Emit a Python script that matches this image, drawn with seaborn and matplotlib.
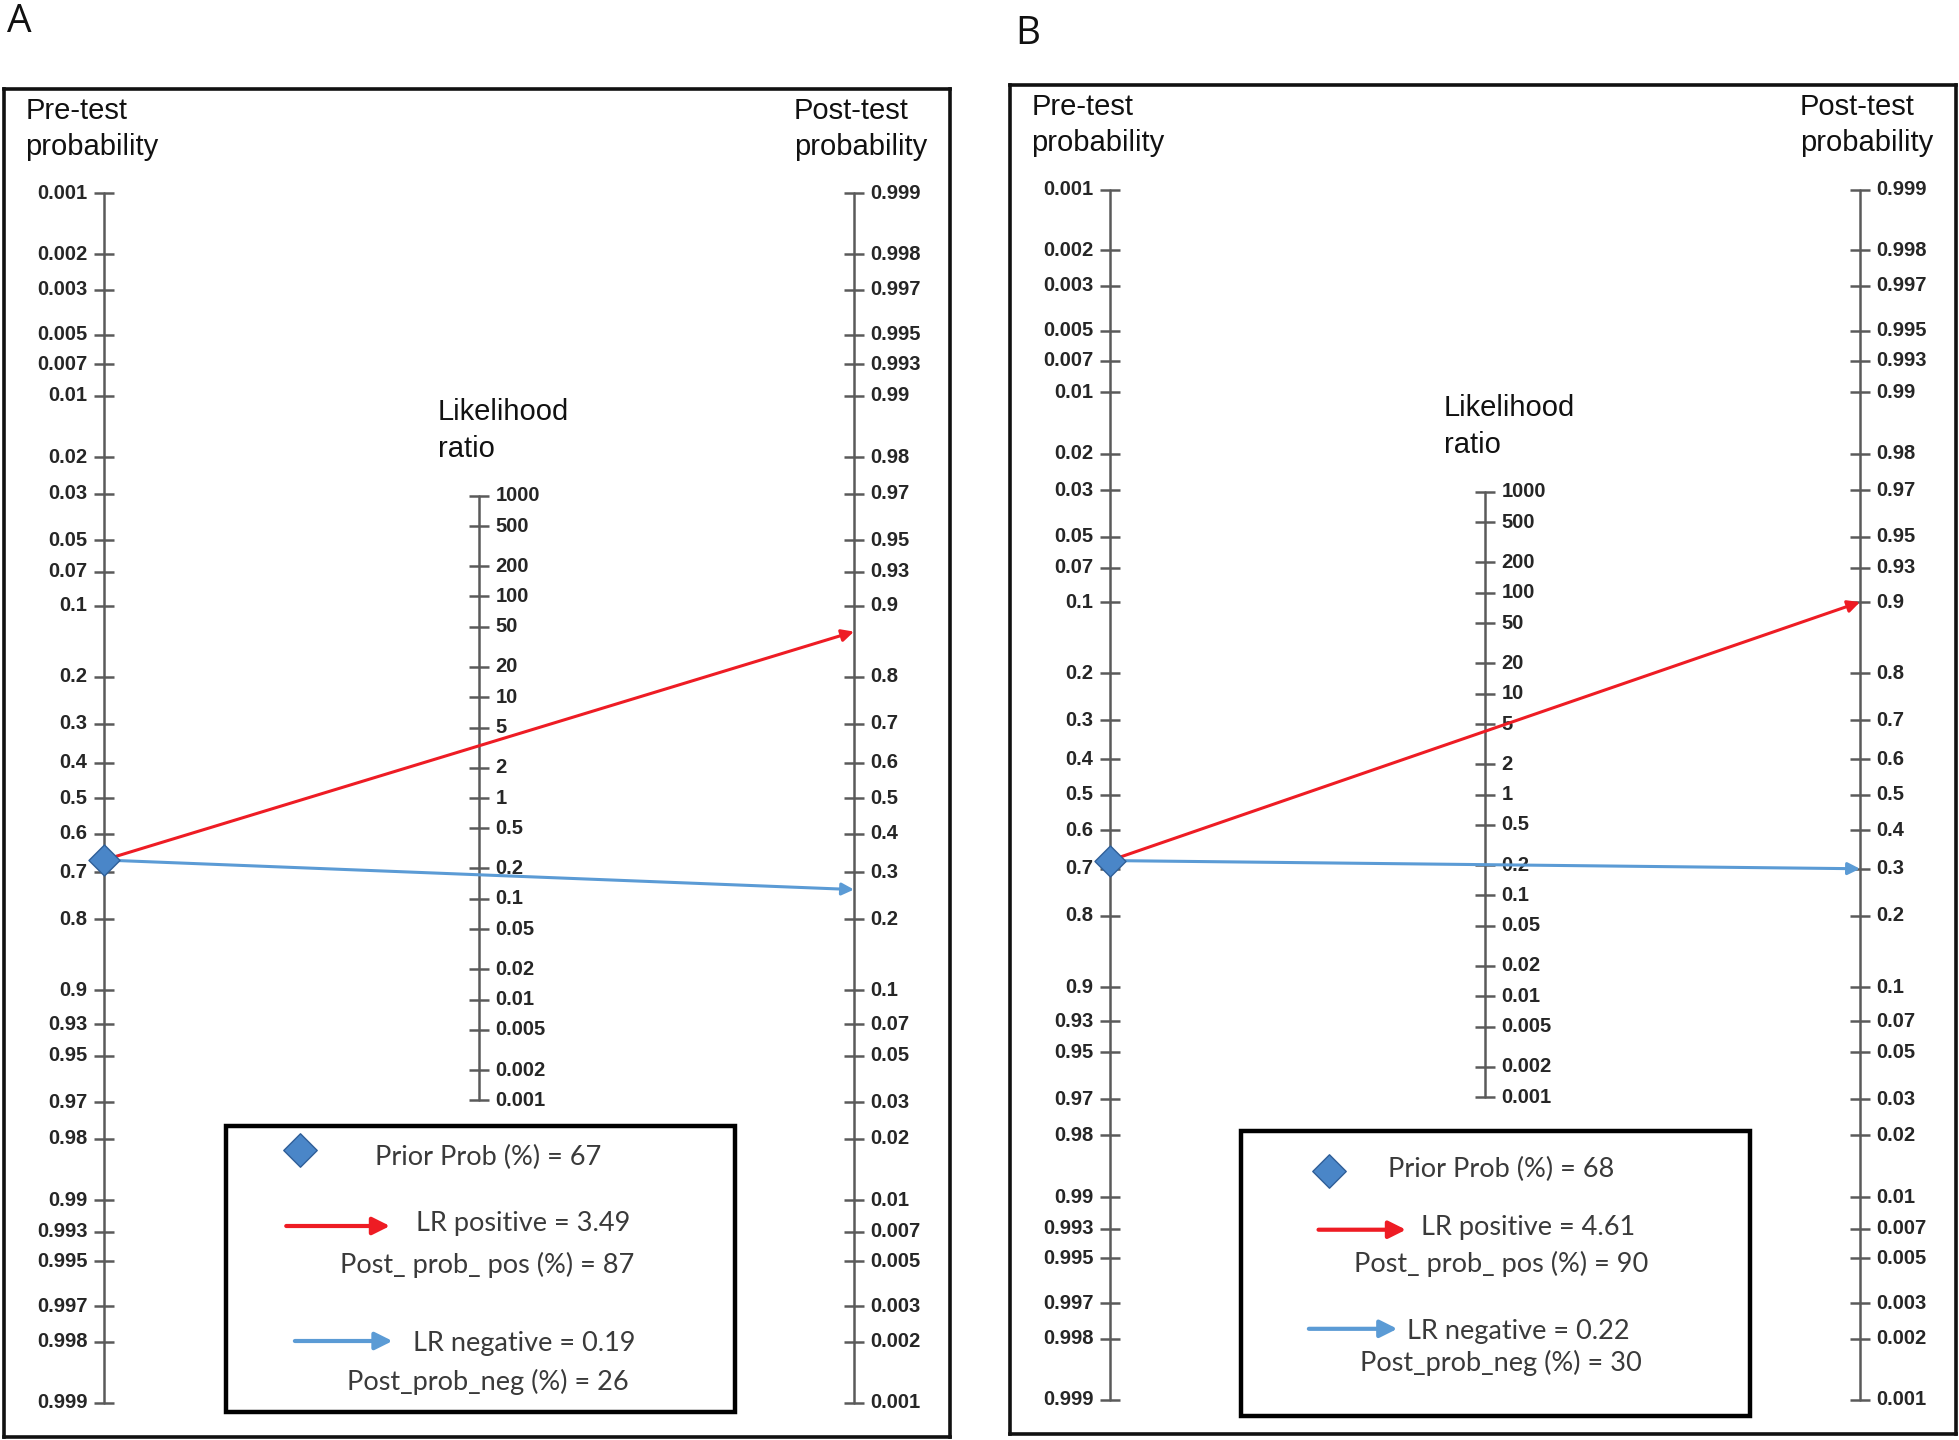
import numpy as np
import matplotlib
matplotlib.use('Agg')
import matplotlib.pyplot as plt
import seaborn as sns
import pandas as pd
from matplotlib.patches import Rectangle

# data
panels = ['A', 'B']
prior_prob = [0.67, 0.68]
lr_pos = [3.49, 4.61]
lr_neg = [0.19, 0.22]
post_pos = [0.87, 0.90]
post_neg = [0.26, 0.30]

pre_ticks = [0.001, 0.002, 0.003, 0.005, 0.007, 0.01, 0.02, 0.03, 0.05, 0.07, 0.1,
             0.2, 0.3, 0.4, 0.5, 0.6, 0.7, 0.8, 0.9, 0.93, 0.95, 0.97, 0.98, 0.99,
             0.993, 0.995, 0.997, 0.998, 0.999]
post_ticks = pre_ticks[::-1]
lr_ticks = [1000, 500, 200, 100, 50, 20, 10, 5, 2, 1, 0.5, 0.2, 0.1, 0.05, 0.02,
            0.01, 0.005, 0.002, 0.001]

RED = '#ee1c24'
BLUE = '#5b9bd5'
DIAMOND = '#4a86c8'
AXCOL = '#5a5a5a'

sns.set_style('white')
plt.rcParams['font.family'] = ['Liberation Sans', 'DejaVu Sans']

W, H = 1959, 1440
fig = plt.figure(figsize=(W / 100, H / 100), dpi=100)

# panel boxes in pixels (left, top, right, bottom)
boxes = [(4, 89, 950, 1437), (1010, 85, 1956, 1434)]
label_pos = [(19, 22), (1028, 34)]
XLIM = (-0.1333, 1.128)
YLIM = (-7.30, 8.10)
TICK = 0.0133

# legend layout: box in data coords and item positions as box fractions
leg_boxes = [(0.163, -3.749, 0.841, -7.017), (0.175, -3.84, 0.853, -7.10)]
leg_items = [
    dict(dia=(0.145, 0.083), prior=(0.516, 0.109), rarr=(0.118, 0.322, 0.349),
         lrp=(0.584, 0.341), pp=(0.514, 0.485), barr=(0.135, 0.327, 0.751),
         lrn=(0.587, 0.760), pn=(0.514, 0.895)),
    dict(dia=(0.172, 0.140), prior=(0.511, 0.136), rarr=(0.152, 0.324, 0.346),
         lrp=(0.565, 0.338), pp=(0.511, 0.465), barr=(0.133, 0.307, 0.693),
         lrn=(0.545, 0.702), pn=(0.511, 0.811)),
]
clip_lr_bottom = [True, False]


def logit(p):
    p = np.asarray(p, dtype=float)
    return np.log(p / (1 - p))


def fmt(v):
    return ('%g' % v)


tfont = dict(fontsize=14.5, color='#262626', fontweight='bold', va='center')

for i, name in enumerate(panels):
    x0, y0, x1, y1 = boxes[i]
    ax = fig.add_axes([x0 / W, 1 - y1 / H, (x1 - x0) / W, (y1 - y0) / H])
    ax.set_xlim(XLIM)
    ax.set_ylim(YLIM)
    ax.set_xticks([])
    ax.set_yticks([])
    for s in ax.spines.values():
        s.set_visible(True)
        s.set_linewidth(2.6)
        s.set_color('#111111')

    # three scales
    y_pre = -logit(pre_ticks)
    y_post = logit(post_ticks)
    y_lr = np.log(lr_ticks) / 2
    ax.plot([0, 0], [y_pre.min(), y_pre.max()], color=AXCOL, lw=1.8)
    ax.plot([1, 1], [y_post.min(), y_post.max()], color=AXCOL, lw=1.8)
    ax.plot([0.5, 0.5], [y_lr.min(), y_lr.max()], color=AXCOL, lw=1.8)
    ax.hlines(y_pre, -TICK, TICK, color=AXCOL, lw=1.8)
    ax.hlines(y_post, 1 - TICK, 1 + TICK, color=AXCOL, lw=1.8)
    ax.hlines(y_lr, 0.5 - TICK, 0.5 + TICK, color=AXCOL, lw=1.8)

    for v, y in zip(pre_ticks, y_pre):
        ax.text(-0.022, y, fmt(v), ha='right', **tfont)
    for v, y in zip(post_ticks, y_post):
        ax.text(1.022, y, fmt(v), ha='left', **tfont)
    for v, y in zip(lr_ticks, y_lr):
        t = ax.text(0.522, y, fmt(v), ha='left', **tfont)
        if clip_lr_bottom[i] and v == lr_ticks[-1]:
            clip = Rectangle((0.4, -3.42), 0.4, 10, transform=ax.transData)
            t.set_clip_path(clip)

    ax.text(-0.105, 7.64, 'Pre-test\nprobability', ha='left', va='center',
            fontsize=21, linespacing=1.38, color='#111111')
    ax.text(0.92, 7.64, 'Post-test\nprobability', ha='left', va='center',
            fontsize=21, linespacing=1.38, color='#111111')
    ax.text(0.445, 4.2, 'Likelihood\nratio', ha='left', va='center',
            fontsize=21, linespacing=1.38, color='#111111')

    # nomogram lines from prior to post-test probabilities
    y0p = -logit(prior_prob[i])
    ax.annotate('', xy=(1, logit(post_pos[i])), xytext=(0, y0p),
                arrowprops=dict(arrowstyle='-|>', color=RED, lw=2.2,
                                mutation_scale=18, shrinkA=0, shrinkB=0))
    ax.annotate('', xy=(1, logit(post_neg[i])), xytext=(0, y0p),
                arrowprops=dict(arrowstyle='-|>', color=BLUE, lw=2.2,
                                mutation_scale=18, shrinkA=0, shrinkB=0))
    pt = pd.DataFrame({'x': [0.0], 'y': [y0p]})
    sns.scatterplot(data=pt, x='x', y='y', marker='D', s=250, color=DIAMOND,
                    edgecolor='#2f5f98', linewidth=1, ax=ax, zorder=5)
    ax.set_xlabel('')
    ax.set_ylabel('')

    # legend box
    lx0, ly0, lx1, ly1 = leg_boxes[i]
    ax.add_patch(Rectangle((lx0, ly1), lx1 - lx0, ly0 - ly1, facecolor='white',
                           edgecolor='#000000', lw=3.2, zorder=6))
    li = leg_items[i]

    def P(fx, fy):
        return lx0 + fx * (lx1 - lx0), ly0 - fy * (ly0 - ly1)

    lfont = dict(fontsize=19.5, color='#3a3a3a', family=['Lato', 'DejaVu Sans'],
                 va='center', ha='center', zorder=7)
    dx, dy = P(*li['dia'])
    ax.scatter([dx], [dy], marker='D', s=290, color=DIAMOND, edgecolor='#2f5f98',
               linewidth=1, zorder=7)
    ax.text(*P(*li['prior']), 'Prior Prob (%%) = %d' % round(prior_prob[i] * 100), **lfont)
    ax.annotate('', xy=P(li['rarr'][1], li['rarr'][2]), xytext=P(li['rarr'][0], li['rarr'][2]),
                arrowprops=dict(arrowstyle='-|>', color=RED, lw=3, mutation_scale=26,
                                shrinkA=0, shrinkB=0), zorder=7)
    ax.text(*P(*li['lrp']), 'LR positive = %.2f' % lr_pos[i], **lfont)
    ax.text(*P(*li['pp']), 'Post_ prob_ pos (%%) = %d' % round(post_pos[i] * 100), **lfont)
    ax.annotate('', xy=P(li['barr'][1], li['barr'][2]), xytext=P(li['barr'][0], li['barr'][2]),
                arrowprops=dict(arrowstyle='-|>', color=BLUE, lw=3, mutation_scale=26,
                                shrinkA=0, shrinkB=0), zorder=7)
    ax.text(*P(*li['lrn']), 'LR negative = %.2f' % lr_neg[i], **lfont)
    ax.text(*P(*li['pn']), 'Post_prob_neg (%%) = %d' % round(post_neg[i] * 100), **lfont)

    lx, ly = label_pos[i]
    fig.text(lx / W, 1 - ly / H, name, ha='center', va='center', fontsize=28,
             family=['Open Sans', 'DejaVu Sans'], color='#111111')

fig.savefig('out.png', dpi=100)
